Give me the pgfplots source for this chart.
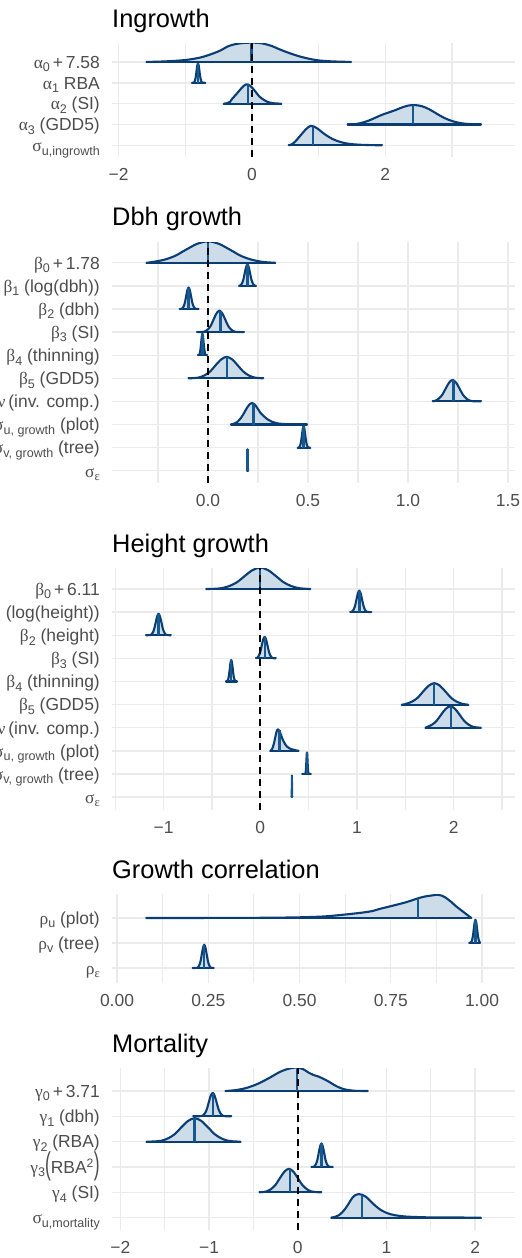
\documentclass[border=0pt]{standalone}
\usepackage{pgfplots}
\pgfplotsset{compat=1.18}
\usepackage{fontspec}
\setmainfont{Liberation Sans}
\newfontfamily\grkfont{Liberation Serif}
\definecolor{rline}{HTML}{0A3D74}
\definecolor{rfill}{HTML}{CCDCE9}
\definecolor{medc}{HTML}{17598F}
\definecolor{gridc}{HTML}{EBEBEB}
\definecolor{labc}{HTML}{4D4D4D}
\newcommand\tf{\fontsize{17.5}{20}\selectfont}
\newcommand\ttl{\fontsize{25.5}{28}\selectfont}
\newcommand\Gk[1]{{\grkfont #1}}
\newcommand\Sb[1]{\raisebox{-3.5pt}{\scalebox{0.72}{#1}}}
\newcommand\hs{0.93}
\newcommand\Ridge[6]{%
  \addplot[draw=rline, fill=rfill, line width=2.1bp, smooth, line join=round] table[row sep=\\, y expr=\thisrow{d}*\hs+#1] {x d\\ #2};
  \addplot[draw=rline, line width=2.1bp, line cap=round] table[row sep=\\, y expr=#1] {x d\\ #3 0\\ #4 0\\};
  \addplot[draw=medc, line width=2.4bp] table[row sep=\\, y expr=\thisrow{d}*\hs+#1] {x d\\ #5 0\\ #5 #6\\};
}
\pgfplotsset{
  ridgeax/.style={
    scale only axis, width=403bp,
    axis line style={draw=none}, tick style={draw=none},
    xmajorgrids, xminorgrids, ymajorgrids,
    major grid style={gridc, line width=1.4bp},
    minor grid style={gridc, line width=1.2bp},
    xticklabel style={font=\tf, text=labc, inner sep=0pt, anchor=north, yshift=-11.5bp},
    yticklabel style={font=\tf, text=labc, inner sep=0pt, anchor=base east, xshift=-12bp, yshift=-6.3bp},
  },
  zeroline/.style={black, line width=2bp, dash pattern=on 7bp off 5bp},
}
\begin{document}
\begin{tikzpicture}
\useasboundingbox (0,0) rectangle (522bp,-1258bp);
% ---------------- Ingrowth
\node[anchor=base west, inner sep=0pt, font=\ttl] at (112bp,-27bp) {Ingrowth};
\begin{axis}[ridgeax, at={(112bp,-43bp)}, anchor=north west, height=114bp,
  xmin=-2.1, xmax=3.945, ymin=0.44, ymax=5.91,
  xtick={-2,0,2}, xticklabels={−2,0,2}, minor xtick={-1,1,3},
  ytick={1,2,3,4,5},
  yticklabels={{\Gk{σ}\Sb{u,ingrowth}},{\Gk{α}\Sb{3} (GDD5)},{\Gk{α}\Sb{2} (SI)},{\Gk{α}\Sb{1} RBA},{\Gk{α}\Sb{0}\,+\,7.58}}]
\Ridge{5}{-1.585 0\\ -1.3 0.03\\ -1.0 0.1\\ -0.75 0.25\\ -0.5 0.55\\ -0.35 0.82\\ -0.2 0.95\\ 0 1\\ 0.15 0.96\\ 0.3 0.82\\ 0.4 0.67\\ 0.55 0.47\\ 0.7 0.3\\ 0.85 0.17\\ 1.0 0.08\\ 1.2 0.03\\ 1.485 0\\}{-1.585}{1.485}{-0.01}{1}
\Ridge{4}{-0.9 0\\ -0.876 0.01\\ -0.865 0.04\\ -0.854 0.14\\ -0.843 0.32\\ -0.832 0.61\\ -0.821 0.88\\ -0.81 1\\ -0.799 0.88\\ -0.788 0.61\\ -0.777 0.32\\ -0.766 0.14\\ -0.755 0.04\\ -0.744 0.01\\ -0.7 0\\}{-0.9}{-0.7}{-0.81}{1}
\Ridge{3}{-0.425 0\\ -0.38 0.02\\ -0.33 0.09\\ -0.3 0.24\\ -0.25 0.43\\ -0.2 0.63\\ -0.13 0.9\\ -0.075 1\\ -0.02 0.9\\ 0.05 0.63\\ 0.11 0.37\\ 0.175 0.2\\ 0.24 0.08\\ 0.3 0.03\\ 0.36 0.01\\ 0.44 0\\}{-0.425}{0.44}{-0.06}{0.99}
\Ridge{2}{1.435 0\\ 1.55 0.02\\ 1.65 0.09\\ 1.75 0.2\\ 1.85 0.35\\ 1.95 0.5\\ 2.05 0.62\\ 2.15 0.74\\ 2.25 0.88\\ 2.35 0.98\\ 2.45 1\\ 2.55 0.94\\ 2.65 0.8\\ 2.75 0.6\\ 2.85 0.4\\ 2.95 0.24\\ 3.05 0.13\\ 3.15 0.06\\ 3.25 0.025\\ 3.435 0\\}{1.435}{3.435}{2.415}{1}
\Ridge{1}{0.55 0\\ 0.6 0.06\\ 0.65 0.2\\ 0.7 0.4\\ 0.75 0.6\\ 0.8 0.8\\ 0.85 0.95\\ 0.88 1\\ 0.93 0.97\\ 1.0 0.82\\ 1.05 0.68\\ 1.1 0.55\\ 1.2 0.34\\ 1.3 0.2\\ 1.4 0.11\\ 1.5 0.06\\ 1.65 0.025\\ 1.8 0.01\\ 1.95 0\\}{0.55}{1.95}{0.915}{0.93}
\addplot[zeroline] coordinates {(0,0.44) (0,5.91)};
\end{axis}
% ---------------- Dbh growth
\node[anchor=base west, inner sep=0pt, font=\ttl] at (112bp,-225bp) {Dbh growth};
\begin{axis}[ridgeax, at={(112bp,-242bp)}, anchor=north west, height=241bp,
  xmin=-0.48, xmax=1.535, ymin=0.47, ymax=10.9,
  xtick={0,0.5,1,1.5}, xticklabels={0.0,0.5,1.0,1.5}, minor xtick={-0.25,0.25,0.75,1.25},
  ytick={1,...,10},
  yticklabels={{\Gk{σ}\Sb{\Gk{ε}}},{\Gk{σ}\Sb{v, growth} (tree)},{\Gk{σ}\Sb{u, growth} (plot)},{\Gk{β}\Sb{6} \Gk{ν}\,(inv. comp.)},{\Gk{β}\Sb{5} (GDD5)},{\Gk{β}\Sb{4} (thinning)},{\Gk{β}\Sb{3} (SI)},{\Gk{β}\Sb{2} (dbh)},{\Gk{β}\Sb{1} (log(dbh))},{\Gk{β}\Sb{0}\,+\,1.78}}]
\Ridge{10}{-0.308 0\\ -0.275 0.04\\ -0.22 0.14\\ -0.165 0.32\\ -0.11 0.61\\ -0.055 0.88\\ 0 1\\ 0.055 0.88\\ 0.11 0.61\\ 0.165 0.32\\ 0.22 0.14\\ 0.275 0.04\\ 0.337 0\\}{-0.308}{0.337}{0}{1}
\Ridge{9}{0.155 0\\ 0.158 0.01\\ 0.1645 0.04\\ 0.171 0.14\\ 0.1775 0.32\\ 0.184 0.61\\ 0.1905 0.88\\ 0.197 1\\ 0.2035 0.88\\ 0.21 0.61\\ 0.2165 0.32\\ 0.223 0.14\\ 0.2295 0.04\\ 0.236 0.01\\ 0.24 0\\}{0.155}{0.24}{0.197}{1}
\Ridge{8}{-0.142 0\\ -0.133 0.01\\ -0.127 0.04\\ -0.121 0.14\\ -0.115 0.32\\ -0.109 0.61\\ -0.103 0.88\\ -0.097 1\\ -0.091 0.88\\ -0.085 0.61\\ -0.079 0.32\\ -0.073 0.14\\ -0.067 0.04\\ -0.061 0.01\\ -0.047 0\\}{-0.142}{-0.047}{-0.097}{1}
\Ridge{7}{-0.055 0\\ -0.027 0.01\\ -0.013 0.04\\ 0.001 0.14\\ 0.015 0.32\\ 0.029 0.61\\ 0.043 0.88\\ 0.057 1\\ 0.071 0.88\\ 0.085 0.61\\ 0.099 0.32\\ 0.113 0.14\\ 0.127 0.04\\ 0.141 0.01\\ 0.18 0\\}{-0.055}{0.18}{0.062}{0.97}
\Ridge{6}{-0.05 0\\ -0.046 0.01\\ -0.043 0.04\\ -0.04 0.14\\ -0.037 0.32\\ -0.034 0.61\\ -0.031 0.88\\ -0.028 1\\ -0.025 0.88\\ -0.022 0.61\\ -0.019 0.32\\ -0.016 0.14\\ -0.013 0.04\\ -0.01 0.01\\ -0.005 0\\}{-0.05}{-0.005}{-0.028}{1}
\Ridge{5}{-0.098 0\\ -0.072 0.01\\ -0.045 0.04\\ -0.017 0.14\\ 0.011 0.32\\ 0.038 0.61\\ 0.066 0.88\\ 0.093 1\\ 0.121 0.88\\ 0.148 0.61\\ 0.176 0.32\\ 0.203 0.14\\ 0.231 0.04\\ 0.258 0.01\\ 0.277 0\\}{-0.098}{0.277}{0.095}{1}
\Ridge{4}{1.123 0\\ 1.138 0.04\\ 1.155 0.14\\ 1.172 0.32\\ 1.189 0.61\\ 1.206 0.88\\ 1.223 1\\ 1.24 0.88\\ 1.257 0.61\\ 1.274 0.32\\ 1.291 0.14\\ 1.308 0.04\\ 1.325 0.01\\ 1.365 0\\}{1.123}{1.365}{1.228}{0.99}
\Ridge{3}{0.115 0\\ 0.14 0.08\\ 0.16 0.25\\ 0.178 0.5\\ 0.195 0.78\\ 0.21 0.96\\ 0.22 1\\ 0.235 0.92\\ 0.25 0.72\\ 0.262 0.55\\ 0.28 0.38\\ 0.3 0.23\\ 0.32 0.13\\ 0.345 0.06\\ 0.37 0.03\\ 0.42 0.01\\ 0.495 0\\}{0.115}{0.495}{0.228}{0.97}
\Ridge{2}{0.448 0\\ 0.454 0.01\\ 0.458 0.04\\ 0.462 0.14\\ 0.466 0.32\\ 0.47 0.61\\ 0.474 0.88\\ 0.478 1\\ 0.482 0.88\\ 0.486 0.61\\ 0.49 0.32\\ 0.494 0.14\\ 0.498 0.04\\ 0.502 0.01\\ 0.512 0\\}{0.448}{0.512}{0.478}{1}
\Ridge{1}{0.195 0\\ 0.1965 0.14\\ 0.1973 0.61\\ 0.198 1\\ 0.1987 0.61\\ 0.1995 0.14\\ 0.201 0\\}{0.196}{0.2}{0.198}{1}
\addplot[zeroline] coordinates {(0,0.47) (0,10.9)};
\end{axis}
% ---------------- Height growth
\node[anchor=base west, inner sep=0pt, font=\ttl] at (112bp,-552bp) {Height growth};
\begin{axis}[ridgeax, at={(112bp,-568bp)}, anchor=north west, height=242bp,
  xmin=-1.534, xmax=2.635, ymin=0.44, ymax=10.91,
  xtick={-1,0,1,2}, xticklabels={−1,0,1,2}, minor xtick={-1.5,-0.5,0.5,1.5,2.5},
  ytick={1,...,10},
  yticklabels={{\Gk{σ}\Sb{\Gk{ε}}},{\Gk{σ}\Sb{v, growth} (tree)},{\Gk{σ}\Sb{u, growth} (plot)},{\Gk{β}\Sb{6} \Gk{ν}\,(inv. comp.)},{\Gk{β}\Sb{5} (GDD5)},{\Gk{β}\Sb{4} (thinning)},{\Gk{β}\Sb{3} (SI)},{\Gk{β}\Sb{2} (height)},{\Gk{β}\Sb{1} (log(height))},{\Gk{β}\Sb{0}\,+\,6.11}}]
\Ridge{10}{-0.559 0\\ -0.48 0.01\\ -0.4 0.04\\ -0.32 0.14\\ -0.24 0.32\\ -0.16 0.61\\ -0.08 0.88\\ 0 1\\ 0.08 0.88\\ 0.16 0.61\\ 0.24 0.32\\ 0.32 0.14\\ 0.4 0.04\\ 0.48 0.01\\ 0.517 0\\}{-0.559}{0.517}{-0.005}{1}
\Ridge{9}{0.93 0\\ 0.94 0.01\\ 0.954 0.04\\ 0.968 0.14\\ 0.982 0.32\\ 0.996 0.61\\ 1.01 0.88\\ 1.024 1\\ 1.038 0.88\\ 1.052 0.61\\ 1.066 0.32\\ 1.08 0.14\\ 1.094 0.04\\ 1.108 0.01\\ 1.148 0\\}{0.93}{1.148}{1.028}{0.99}
\Ridge{8}{-1.183 0\\ -1.139 0.01\\ -1.125 0.04\\ -1.11 0.14\\ -1.096 0.32\\ -1.081 0.61\\ -1.067 0.88\\ -1.052 1\\ -1.038 0.88\\ -1.023 0.61\\ -1.009 0.32\\ -0.994 0.14\\ -0.98 0.04\\ -0.965 0.01\\ -0.924 0\\}{-1.183}{-0.924}{-1.052}{1}
\Ridge{7}{-0.045 0\\ -0.042 0.01\\ -0.028 0.04\\ -0.013 0.14\\ 0.001 0.32\\ 0.016 0.61\\ 0.03 0.88\\ 0.045 1\\ 0.06 0.88\\ 0.074 0.61\\ 0.089 0.32\\ 0.103 0.14\\ 0.118 0.04\\ 0.132 0.01\\ 0.162 0\\}{-0.045}{0.162}{0.048}{0.99}
\Ridge{6}{-0.355 0\\ -0.345 0.01\\ -0.338 0.04\\ -0.33 0.14\\ -0.323 0.32\\ -0.315 0.61\\ -0.308 0.88\\ -0.3 1\\ -0.293 0.88\\ -0.285 0.61\\ -0.278 0.32\\ -0.27 0.14\\ -0.263 0.04\\ -0.255 0.01\\ -0.241 0\\}{-0.355}{-0.241}{-0.3}{1}
\Ridge{5}{1.463 0\\ 1.49 0.01\\ 1.513 0.04\\ 1.57 0.14\\ 1.628 0.32\\ 1.685 0.61\\ 1.743 0.88\\ 1.8 1\\ 1.858 0.88\\ 1.915 0.61\\ 1.973 0.32\\ 2.03 0.14\\ 2.088 0.04\\ 2.12 0.01\\ 2.152 0\\}{1.463}{2.152}{1.8}{1}
\Ridge{4}{1.707 0\\ 1.729 0.04\\ 1.776 0.14\\ 1.824 0.32\\ 1.871 0.61\\ 1.919 0.88\\ 1.966 1\\ 2.014 0.88\\ 2.061 0.61\\ 2.109 0.32\\ 2.156 0.14\\ 2.204 0.04\\ 2.25 0.01\\ 2.283 0\\}{1.707}{2.283}{1.97}{1}
\Ridge{3}{0.103 0\\ 0.12 0.06\\ 0.138 0.29\\ 0.15 0.52\\ 0.162 0.78\\ 0.173 0.95\\ 0.183 1\\ 0.195 0.95\\ 0.207 0.82\\ 0.224 0.62\\ 0.241 0.44\\ 0.258 0.3\\ 0.276 0.2\\ 0.3 0.12\\ 0.328 0.07\\ 0.36 0.03\\ 0.397 0\\}{0.103}{0.397}{0.197}{0.96}
\Ridge{2}{0.434 0\\ 0.465 0.01\\ 0.468 0.04\\ 0.471 0.14\\ 0.474 0.32\\ 0.477 0.61\\ 0.48 0.88\\ 0.483 1\\ 0.486 0.88\\ 0.489 0.61\\ 0.492 0.32\\ 0.495 0.14\\ 0.498 0.04\\ 0.501 0.01\\ 0.524 0\\}{0.434}{0.524}{0.483}{1}
\Ridge{1}{0.323 0\\ 0.3255 0.14\\ 0.3263 0.61\\ 0.327 1\\ 0.3277 0.61\\ 0.3285 0.14\\ 0.331 0\\}{0.325}{0.329}{0.327}{1}
\addplot[zeroline] coordinates {(0,0.44) (0,10.91)};
\end{axis}
% ---------------- Growth correlation
\node[anchor=base west, inner sep=0pt, font=\ttl] at (112bp,-878bp) {Growth correlation};
\begin{axis}[ridgeax, at={(112bp,-894bp)}, anchor=north west, height=89bp,
  xmin=-0.0137, xmax=1.0904, ymin=0.4, ymax=3.96,
  xtick={0,0.25,0.5,0.75,1}, xticklabels={0.00,0.25,0.50,0.75,1.00}, minor xtick={0.125,0.375,0.625,0.875},
  ytick={1,2,3},
  yticklabels={{\Gk{ρ}\Sb{\Gk{ε}}},{\Gk{ρ}\Sb{v} (tree)},{\Gk{ρ}\Sb{u} (plot)}}]
\Ridge{3}{0.08 0\\ 0.25 0.003\\ 0.4 0.01\\ 0.5 0.03\\ 0.57 0.07\\ 0.625 0.15\\ 0.66 0.21\\ 0.68 0.25\\ 0.7 0.3\\ 0.717 0.38\\ 0.74 0.47\\ 0.763 0.56\\ 0.79 0.67\\ 0.81 0.77\\ 0.825 0.85\\ 0.845 0.93\\ 0.863 0.97\\ 0.877 1\\ 0.89 0.96\\ 0.9 0.88\\ 0.915 0.7\\ 0.927 0.53\\ 0.945 0.31\\ 0.959 0.14\\ 0.971 0\\}{0.08}{0.971}{0.825}{0.85}
\Ridge{2}{0.965 0\\ 0.9707 0.04\\ 0.973 0.14\\ 0.9753 0.32\\ 0.9775 0.61\\ 0.9798 0.88\\ 0.982 1\\ 0.9843 0.88\\ 0.9865 0.61\\ 0.9888 0.32\\ 0.991 0.14\\ 0.9933 0.04\\ 0.995 0\\}{0.965}{0.995}{0.982}{1}
\Ridge{1}{0.207 0\\ 0.2195 0.01\\ 0.2228 0.04\\ 0.226 0.14\\ 0.2293 0.32\\ 0.2325 0.61\\ 0.2358 0.88\\ 0.239 1\\ 0.2423 0.88\\ 0.2455 0.61\\ 0.2488 0.32\\ 0.252 0.14\\ 0.2553 0.04\\ 0.2585 0.01\\ 0.265 0\\}{0.207}{0.265}{0.239}{1}
\end{axis}
% ---------------- Mortality
\node[anchor=base west, inner sep=0pt, font=\ttl] at (112bp,-1052bp) {Mortality};
\begin{axis}[ridgeax, at={(112bp,-1068bp)}, anchor=north west, height=162bp,
  xmin=-2.094, xmax=2.449, ymin=0.51, ymax=6.91,
  xtick={-2,-1,0,1,2}, xticklabels={−2,−1,0,1,2}, minor xtick={-1.5,-0.5,0.5,1.5},
  ytick={1,...,6},
  yticklabels={{\Gk{σ}\Sb{u,mortality}},{\Gk{γ}\Sb{4} (SI)},{\Gk{γ}\Sb{3}\raisebox{-1.3pt}{\scalebox{1}[1.8]{(}}RBA\textsuperscript{2}\raisebox{-1.3pt}{\scalebox{1}[1.8]{)}}},{\Gk{γ}\Sb{2} (RBA)},{\Gk{γ}\Sb{1} (dbh)},{\Gk{γ}\Sb{0}\,+\,3.71}}]
\Ridge{6}{-0.816 0\\ -0.7 0.04\\ -0.59 0.12\\ -0.48 0.26\\ -0.4 0.4\\ -0.3 0.6\\ -0.214 0.79\\ -0.12 0.93\\ -0.02 1\\ 0.06 0.93\\ 0.124 0.78\\ 0.18 0.68\\ 0.237 0.61\\ 0.3 0.5\\ 0.35 0.4\\ 0.41 0.26\\ 0.462 0.16\\ 0.52 0.08\\ 0.575 0.04\\ 0.65 0.01\\ 0.789 0\\}{-0.816}{0.789}{-0.008}{1}
\Ridge{5}{-1.18 0\\ -1.088 0.01\\ -1.0665 0.04\\ -1.045 0.14\\ -1.0235 0.32\\ -1.002 0.61\\ -0.9805 0.88\\ -0.959 1\\ -0.9375 0.88\\ -0.916 0.61\\ -0.8945 0.32\\ -0.873 0.14\\ -0.8515 0.04\\ -0.83 0.01\\ -0.748 0\\}{-1.18}{-0.748}{-0.955}{1}
\Ridge{4}{-1.707 0\\ -1.612 0.01\\ -1.537 0.04\\ -1.462 0.14\\ -1.387 0.32\\ -1.312 0.61\\ -1.237 0.88\\ -1.162 1\\ -1.087 0.88\\ -1.012 0.61\\ -0.937 0.32\\ -0.862 0.14\\ -0.787 0.04\\ -0.712 0.01\\ -0.643 0\\}{-1.707}{-0.643}{-1.165}{1}
\Ridge{3}{0.154 0\\ 0.177 0.01\\ 0.192 0.04\\ 0.207 0.14\\ 0.222 0.32\\ 0.237 0.61\\ 0.252 0.88\\ 0.267 1\\ 0.282 0.88\\ 0.297 0.61\\ 0.312 0.32\\ 0.327 0.14\\ 0.342 0.04\\ 0.357 0.01\\ 0.395 0\\}{0.154}{0.395}{0.267}{1}
\Ridge{2}{-0.432 0\\ -0.4 0.01\\ -0.35 0.04\\ -0.3 0.14\\ -0.25 0.32\\ -0.2 0.61\\ -0.15 0.88\\ -0.1 1\\ -0.05 0.88\\ 0 0.61\\ 0.05 0.32\\ 0.1 0.14\\ 0.15 0.04\\ 0.2 0.01\\ 0.267 0\\}{-0.432}{0.267}{-0.09}{0.99}
\Ridge{1}{0.376 0\\ 0.42 0.03\\ 0.462 0.1\\ 0.5 0.22\\ 0.538 0.39\\ 0.575 0.6\\ 0.613 0.83\\ 0.65 0.96\\ 0.688 1\\ 0.725 0.97\\ 0.763 0.9\\ 0.8 0.78\\ 0.84 0.62\\ 0.876 0.5\\ 0.93 0.34\\ 0.989 0.22\\ 1.05 0.14\\ 1.1 0.1\\ 1.2 0.05\\ 1.3 0.03\\ 1.5 0.01\\ 2.068 0\\}{0.376}{2.068}{0.726}{0.97}
\addplot[zeroline] coordinates {(0,0.51) (0,6.91)};
\end{axis}
\end{tikzpicture}
\end{document}
